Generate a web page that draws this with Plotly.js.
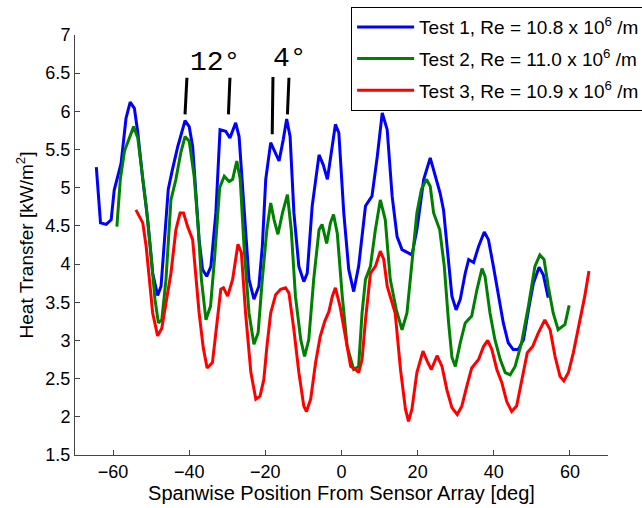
<!DOCTYPE html>
<html>
<head>
<meta charset="utf-8">
<script src="https://cdn.plot.ly/plotly-3.0.1.min.js"></script>
<style>html,body{margin:0;padding:0;background:#fff;}#chart{width:642px;height:508px;}</style>
</head>
<body>
<div id="chart"></div>
<script>
// Test 1 (blue)
const blueX = [-64.4,-63.3,-61.8,-60.5,-59.7,-57.9,-56.6,-55.5,-54.4,-53.5,-52.2,-50.9,-49.6,-48.3,-47.4,-47.0,-45.5,-44.4,-43.0,-41.1,-40.0,-39.1,-38.3,-37.4,-36.5,-35.4,-34.3,-33.0,-31.9,-30.4,-29.3,-27.8,-26.9,-25.6,-24.3,-23.0,-21.7,-20.8,-19.9,-18.6,-17.6,-16.4,-15.3,-14.4,-13.5,-12.5,-11.2,-9.9,-9.0,-7.7,-5.9,-4.8,-3.7,-2.6,-1.6,-0.7,0.6,1.9,3.2,4.5,6.3,8.0,9.4,10.7,12.0,13.3,14.6,15.9,18.5,19.8,21.6,23.3,24.6,25.9,26.8,27.7,29.0,30.1,31.2,32.5,33.4,34.7,36.0,37.5,38.6,39.9,41.2,42.5,43.8,45.1,46.4,47.8,49.1,50.4,51.9,53.0,54.3];
const blueY = [5.27,4.54,4.52,4.58,4.97,5.32,5.91,6.12,6.04,5.72,5.11,4.58,3.88,3.59,3.71,3.97,4.98,5.24,5.54,5.88,5.80,5.54,4.89,4.32,3.93,3.84,3.97,4.67,5.76,5.74,5.65,5.85,5.67,4.67,3.80,3.54,3.71,4.23,5.11,5.59,5.48,5.35,5.63,5.90,5.67,4.67,3.97,3.77,3.88,4.76,5.43,5.30,5.11,5.46,5.83,5.72,4.67,3.93,3.64,3.97,4.76,4.89,5.41,5.98,5.76,4.89,4.36,4.19,4.12,4.45,5.11,5.39,5.15,4.93,4.71,4.23,3.58,3.40,3.54,3.88,4.06,4.02,4.23,4.42,4.32,3.97,3.62,3.23,2.97,2.88,2.88,3.01,3.40,3.75,3.96,3.86,3.56];

// Test 2 (green)
const greenX = [-59.0,-58.1,-57.0,-55.7,-54.6,-53.5,-52.7,-51.3,-50.0,-49.0,-48.1,-47.2,-46.1,-44.8,-43.5,-42.2,-41.1,-40.0,-38.7,-37.6,-36.8,-35.6,-34.4,-33.3,-32.0,-30.8,-29.5,-28.6,-27.5,-26.6,-25.6,-24.3,-23.0,-21.9,-20.8,-19.6,-18.6,-17.7,-16.7,-15.5,-14.2,-13.2,-12.1,-10.7,-9.7,-8.6,-7.3,-5.9,-5.1,-3.9,-2.9,-2.1,-1.1,0.2,1.5,3.2,4.5,5.4,6.3,7.6,8.9,10.2,11.5,12.8,14.4,15.9,17.2,18.5,19.8,21.0,22.3,23.3,24.2,25.8,27.0,28.1,29.0,29.9,31.2,32.5,34.2,35.6,36.9,37.7,39.0,40.3,41.7,43.0,44.3,45.6,47.3,49.1,50.8,52.1,53.2,54.3,55.6,56.9,58.7,59.8];
const greenY = [4.49,5.11,5.48,5.65,5.80,5.65,5.32,4.76,4.10,3.54,3.23,3.27,3.80,4.84,5.11,5.46,5.67,5.61,5.15,4.45,3.80,3.27,3.45,4.10,5.00,5.15,5.08,5.11,5.35,5.11,4.23,3.36,2.95,3.10,3.80,4.45,4.80,4.58,4.39,4.67,4.91,4.45,3.58,3.01,2.79,3.01,3.80,4.45,4.52,4.27,4.54,4.65,4.40,3.58,2.92,2.62,2.66,3.36,3.80,3.97,4.45,4.84,4.58,3.80,3.40,3.14,3.36,3.97,4.67,4.98,5.11,5.02,4.67,4.45,3.97,3.25,2.78,2.66,2.97,3.23,3.32,3.67,3.94,3.84,3.36,3.01,2.75,2.58,2.55,2.66,2.97,3.45,3.97,4.12,4.06,3.71,3.36,3.14,3.21,3.46];

// Test 3 (red)
const redX = [-54.0,-52.2,-51.3,-50.5,-49.6,-48.3,-47.2,-46.1,-44.8,-43.5,-42.4,-41.5,-40.4,-39.1,-38.3,-37.4,-36.3,-35.3,-33.9,-32.6,-31.7,-31.0,-29.9,-28.6,-27.2,-26.3,-25.2,-23.8,-22.5,-21.4,-20.4,-19.6,-18.6,-17.3,-16.0,-14.7,-13.8,-12.5,-11.2,-9.9,-9.2,-8.1,-6.8,-5.6,-4.4,-3.3,-2.4,-1.6,-0.4,1.0,2.4,3.7,4.5,5.4,6.3,7.6,8.9,10.2,11.1,12.0,12.8,14.1,15.5,16.8,17.6,18.5,19.8,21.4,22.5,23.6,25.1,26.4,27.7,29.0,30.4,31.6,32.9,34.2,36.0,37.3,38.4,39.5,40.8,42.1,43.4,44.7,46.0,47.3,48.8,50.2,51.7,53.4,54.8,56.1,57.4,58.4,59.6,60.9,62.6,63.9,65.0];
const redY = [4.71,4.54,4.23,3.80,3.36,3.06,3.16,3.49,3.88,4.45,4.67,4.67,4.49,4.32,3.88,3.36,2.90,2.64,2.71,3.27,3.67,3.69,3.58,3.80,4.26,4.15,3.36,2.58,2.23,2.27,2.49,2.92,3.36,3.60,3.67,3.69,3.62,3.14,2.58,2.14,2.07,2.23,2.71,3.05,3.25,3.38,3.58,3.69,3.45,3.06,2.66,2.62,2.58,2.75,3.27,3.88,3.97,4.17,4.06,3.71,3.58,3.36,2.62,2.10,1.94,2.10,2.58,2.86,2.73,2.62,2.80,2.66,2.35,2.12,2.03,2.14,2.40,2.64,2.75,2.92,3.00,2.88,2.62,2.45,2.20,2.07,2.14,2.45,2.84,2.92,3.10,3.27,3.14,2.79,2.53,2.47,2.58,2.84,3.27,3.58,3.91];

const seriesNames = [
  'Test 1, Re = 10.8 x 10<sup>6</sup> /m',
  'Test 2, Re = 11.0 x 10<sup>6</sup> /m',
  'Test 3, Re = 10.9 x 10<sup>6</sup> /m'
];
const xTicks = [-60,-40,-20,0,20,40,60];
const yTicks = [1.5,2,2.5,3,3.5,4,4.5,5,5.5,6,6.5,7];

// annotation marker lines (data coords) and labels
const markX0 = [-40.6,-29.3,-18.0,-13.8];
const markX1 = [-41.1,-29.7,-18.2,-14.2];
const markY0 = [6.44,6.44,6.45,6.44];
const markY1 = [5.96,5.96,5.70,5.96];
const labelText = ['12°','4°'];
const labelX = [-33.3,-13.4];
const labelY = [6.64,6.69];

const colors = ['#0000ff','#008000','#ff0000'];
const xs = [blueX, greenX, redX];
const ys = [blueY, greenY, redY];

const traces = xs.map((x,i)=>({
  x: x, y: ys[i], type:'scatter', mode:'lines', name: seriesNames[i],
  legendgroup: 'g'+i,
  line:{color:colors[i], width:3}
}));

const shapes = markX0.map((x0,i)=>({
  type:'line', xref:'x', yref:'y', x0:x0, x1:markX1[i], y0:markY0[i], y1:markY1[i],
  line:{color:'#000', width:3}
}));

const annotations = labelText.map((t,i)=>({
  x: labelX[i], y: labelY[i], xref:'x', yref:'y', text:t, showarrow:false,
  font:{family:'Liberation Mono, DejaVu Sans Mono, monospace', size:28, color:'#000'},
  xanchor:'center', yanchor:'middle'
}));

const fontFam = 'Liberation Sans, Arial, Helvetica, sans-serif';
const layout = {
  width:642, height:508,
  margin:{l:75, r:34, t:35, b:52.5, autoexpand:false},
  paper_bgcolor:'#fff', plot_bgcolor:'#fff',
  font:{family:fontFam, size:18, color:'#000'},
  showlegend:true,
  legend:{
    x:0.518, y:1.0666, xanchor:'left', yanchor:'top',
    bgcolor:'#fff', bordercolor:'#000', borderwidth:1,
    font:{family:fontFam, size:19, color:'#000'},
    traceorder:'grouped', tracegroupgap:4, itemwidth:57
  },
  xaxis:{
    range:[-70,70], tickvals:xTicks, ticks:'inside', ticklen:5, tickcolor:'#444',
    showline:true, linecolor:'#444', linewidth:1, mirror:false, showgrid:false, zeroline:false,
    tickfont:{family:fontFam, size:18, color:'#000'},
    title:{text:'Spanwise Position From Sensor Array [deg]', font:{family:fontFam, size:20, color:'#000'}, standoff:3}
  },
  yaxis:{
    range:[1.5,7], tickvals:yTicks, ticks:'inside', ticklen:5, tickcolor:'#444',
    showline:true, linecolor:'#444', linewidth:1, mirror:false, showgrid:false, zeroline:false,
    tickfont:{family:fontFam, size:18, color:'#000'},
    title:{text:'Heat Transfer [kW/m<sup>2</sup>]', font:{family:fontFam, size:19, color:'#000'}, standoff:6}
  },
  shapes: shapes,
  annotations: annotations
};

Plotly.newPlot('chart', traces, layout, {displayModeBar:false, staticPlot:true});
</script>
</body>
</html>
